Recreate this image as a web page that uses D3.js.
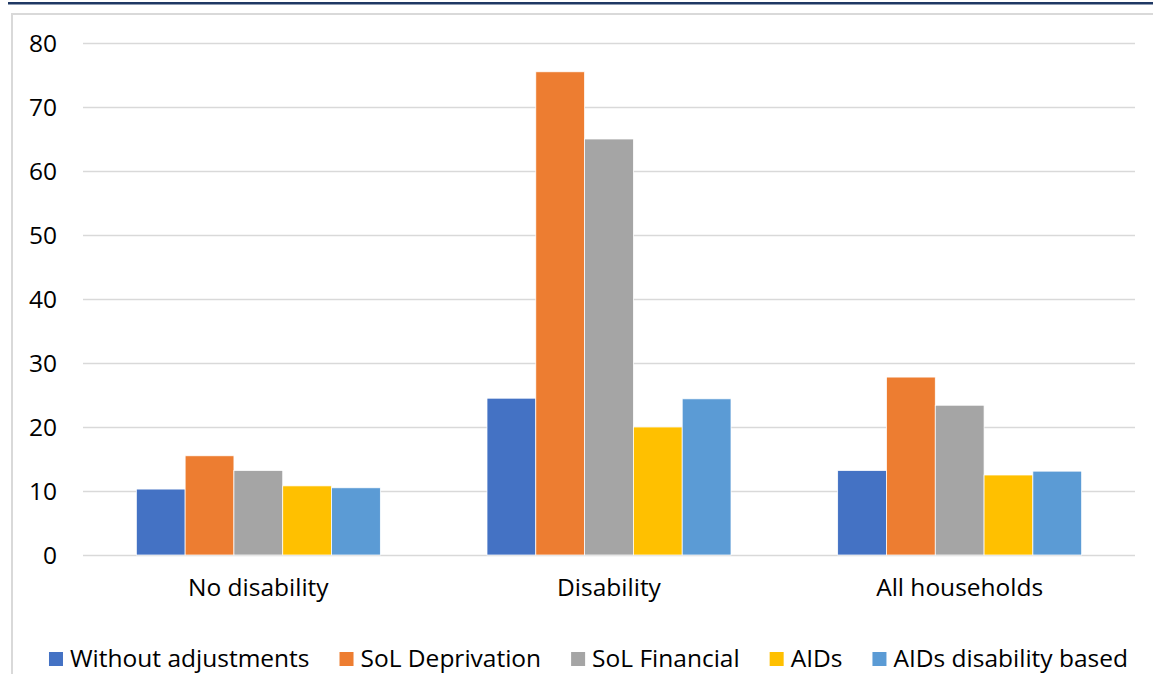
<!DOCTYPE html>
<html>
<head>
<meta charset="utf-8">
<script src="https://cdn.jsdelivr.net/npm/d3@7"></script>
<style>
  html, body { margin: 0; padding: 0; background: #fff; }
  svg { display: block; }
  svg text { font-family: "Open Sans", "Noto Sans", sans-serif; }
</style>
</head>
<body>
<svg id="chart" width="1153" height="674"></svg>
<script>
// Household groups and the five poverty measures
const categories = ["No disability", "Disability", "All households"];
const seriesNames = ["Without adjustments", "SoL Deprivation", "SoL Financial", "AIDs", "AIDs disability based"];
const seriesColors = ["#4472C4", "#ED7D31", "#A5A5A5", "#FFC000", "#5B9BD5"];

// Values per series, ordered as in categories
const withoutAdjustments = [10.3, 24.5, 13.2];
const solDeprivation     = [15.5, 75.5, 27.8];
const solFinancial       = [13.2, 65.0, 23.4];
const aids               = [10.8, 20.0, 12.5];
const aidsDisability     = [10.5, 24.4, 13.1];

const yTicks = [0, 10, 20, 30, 40, 50, 60, 70, 80];

const seriesValues = [withoutAdjustments, solDeprivation, solFinancial, aids, aidsDisability];

const FONT = 24.5;
const svg = d3.select("#chart");
const W = 1153, H = 674;
const plot = { left: 83, right: 1135, top: 43, bottom: 555 };

// frame: navy rule along the top, light border around the chart area
svg.append("rect").attr("x", 8).attr("y", 2).attr("width", W - 8).attr("height", 2.5).attr("fill", "#1F3864");
svg.append("path")
  .attr("d", `M12,${H} V14 H${W}`)
  .attr("fill", "none").attr("stroke", "#D9D9D9").attr("stroke-width", 2);

const y = d3.scaleLinear().domain([0, 80]).range([plot.bottom, plot.top]);
const x0 = d3.scaleBand().domain(categories).range([plot.left, plot.right]).paddingInner(0).paddingOuter(0);
const groupW = x0.bandwidth() * 244 / 350.67;
const x1 = d3.scaleBand().domain(seriesNames).range([0, groupW]).padding(0);

// gridlines and value labels
const yAxis = d3.axisLeft(y).tickValues(yTicks).tickSize(-(plot.right - plot.left)).tickPadding(26);
const gy = svg.append("g").attr("transform", `translate(${plot.left},0)`).call(yAxis);
gy.attr("font-family", null);
gy.select(".domain").remove();
gy.selectAll(".tick line").attr("stroke", "#D9D9D9").attr("stroke-width", 1.5);
gy.selectAll(".tick text").attr("font-size", FONT).attr("fill", "#000").attr("dy", "0.36em");

// bars
const groups = svg.append("g").selectAll("g")
  .data(categories)
  .join("g")
  .attr("transform", d => `translate(${x0(d) + (x0.bandwidth() - groupW) / 2},0)`);

groups.selectAll("rect")
  .data((c, ci) => seriesNames.map((s, si) => ({ s, si, v: seriesValues[si][ci] })))
  .join("rect")
  .attr("x", d => x1(d.s))
  .attr("y", d => y(d.v))
  .attr("width", x1.bandwidth())
  .attr("height", d => y(0) - y(d.v))
  .attr("fill", d => seriesColors[d.si])
  .attr("stroke", "#fff")
  .attr("stroke-width", 0.75);

// category axis labels
const xAxis = d3.axisBottom(x0).tickSize(0).tickPadding(24);
const gx = svg.append("g").attr("transform", `translate(0,${plot.bottom})`).call(xAxis);
gx.attr("font-family", null);
gx.select(".domain").remove();
gx.selectAll(".tick text").attr("font-size", FONT).attr("fill", "#000");

// legend
const legend = svg.append("g");
const legendY = 658;
const itemGap = 30;
let lx = 0;
seriesNames.forEach((name, i) => {
  const g = legend.append("g");
  g.append("rect").attr("x", 0).attr("y", legendY - 6).attr("width", 14).attr("height", 14).attr("fill", seriesColors[i]);
  const t = g.append("text").attr("x", 21).attr("y", legendY).attr("dy", "0.36em")
    .attr("font-size", FONT).attr("fill", "#000").text(name);
  const w = 21 + t.node().getComputedTextLength();
  g.attr("transform", `translate(${lx},0)`);
  lx += w + itemGap;
});
const legendW = lx - itemGap;
legend.attr("transform", `translate(${(50 + 1127) / 2 - legendW / 2},0)`);
</script>
</body>
</html>
